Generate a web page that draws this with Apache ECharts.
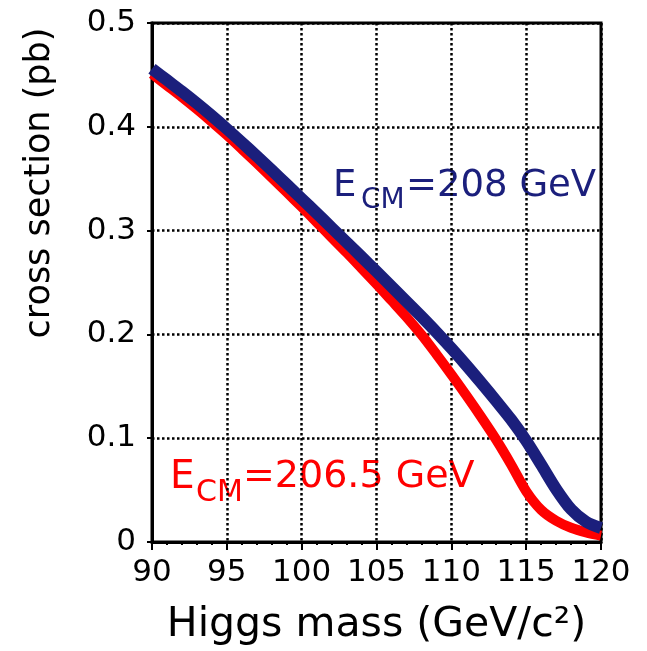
<!DOCTYPE html>
<html>
<head>
<meta charset="utf-8">
<script src="https://cdn.jsdelivr.net/npm/echarts@6/dist/echarts.min.js"></script>
<style>
html,body{margin:0;padding:0;background:#fff;}
#c{width:647px;height:651px;}
</style>
</head>
<body>
<div id="c"></div>
<script>
// Higgs mass (GeV/c^2)
var mass = [90,91,92,93,94,95,96,97,98,99,100,101,102,103,104,105,106,107,108,109,110,111,112,113,114,115,116,117,118,119,120];
// cross section (pb), E_CM = 208 GeV
var xsec208 = [0.456,0.445,0.434,0.4225,0.4105,0.398,0.385,0.3717,0.3582,0.3445,0.3307,0.3168,0.3028,0.2888,0.2747,0.2605,0.2462,0.2318,0.2172,0.2022,0.1866,0.1703,0.1533,0.1358,0.1178,0.0975,0.0745,0.051,0.0315,0.0195,0.0135];
// cross section (pb), E_CM = 206.5 GeV
var xsec2065 = [0.451,0.4398,0.4286,0.4169,0.4047,0.392,0.3786,0.3649,0.351,0.3369,0.3227,0.3081,0.2934,0.2788,0.2637,0.2485,0.2327,0.2168,0.1997,0.1809,0.1614,0.1412,0.1203,0.0985,0.0745,0.049,0.031,0.0205,0.0137,0.0093,0.0062];
var xTicks = {min: 90, max: 120, interval: 5};
var yTicks = {min: 0, max: 0.5, interval: 0.1};

function pairs(xs, ys){ return xs.map(function(x,i){ return [x, ys[i]]; }); }

var FONT = 'DejaVu Sans';
var chart = echarts.init(document.getElementById('c'), null, {renderer: 'canvas'});
chart.setOption({
  animation: false,
  backgroundColor: '#fff',
  textStyle: {fontFamily: FONT},
  grid: {left: 152, right: 46, top: 23, bottom: 107, show: true, borderColor: '#000', borderWidth: 3, containLabel: false},
  xAxis: {
    type: 'value', min: xTicks.min, max: xTicks.max, interval: xTicks.interval,
    name: 'Higgs mass (GeV/c²)', nameLocation: 'middle', nameGap: 63,
    nameTextStyle: {fontFamily: FONT, fontSize: 41, color: '#000'},
    axisLine: {show: true, lineStyle: {color: '#000', width: 3}},
    axisTick: {show: true, inside: false, length: 8, lineStyle: {color: '#000', width: 2}},
    minorTick: {show: true, splitNumber: 5, length: 3, lineStyle: {color: '#000', width: 2}},
    axisLabel: {fontFamily: FONT, fontSize: 31, color: '#000', margin: 15},
    splitLine: {show: true, lineStyle: {color: '#000', width: 2.5, type: [2.5, 2.5]}}
  },
  yAxis: {
    type: 'value', min: yTicks.min, max: yTicks.max, interval: yTicks.interval,
    axisLine: {show: true, lineStyle: {color: '#000', width: 3}},
    axisTick: {show: true, inside: false, length: 5, lineStyle: {color: '#000', width: 2}},
    axisLabel: {fontFamily: FONT, fontSize: 31, color: '#000', margin: 16},
    splitLine: {show: true, lineStyle: {color: '#000', width: 2.5, type: [2.5, 2.5]}}
  },
  series: [
    {type: 'line', data: pairs(mass, xsec2065), smooth: 0.3, showSymbol: false, z: 2,
     lineStyle: {color: '#ff0000', width: 10, cap: 'butt', join: 'round'}},
    {type: 'line', data: pairs(mass, xsec208), smooth: 0.3, showSymbol: false, z: 3,
     lineStyle: {color: '#1b1f7c', width: 12, cap: 'butt', join: 'round'}}
  ],
  graphic: [
    {type: 'text', x: 40, y: 183, rotation: Math.PI / 2,
     style: {text: 'cross section (pb)', fontFamily: FONT, fontSize: 35, fill: '#000', align: 'center', verticalAlign: 'middle'}},
    {type: 'text', left: 333, top: 168, style: {text: 'E', fontFamily: FONT, fontSize: 37, fill: '#1b1f7c'}},
    {type: 'text', left: 361, top: 187, style: {text: 'CM', fontFamily: FONT, fontSize: 28, fill: '#1b1f7c'}},
    {type: 'text', left: 406, top: 168, style: {text: '=208 GeV', fontFamily: FONT, fontSize: 37, fill: '#1b1f7c'}},
    {type: 'text', left: 170, top: 458, style: {text: 'E', fontFamily: FONT, fontSize: 39, fill: '#ff0000'}},
    {type: 'text', left: 196, top: 478, style: {text: 'CM', fontFamily: FONT, fontSize: 30, fill: '#ff0000'}},
    {type: 'text', left: 243, top: 458, style: {text: '=206.5 GeV', fontFamily: FONT, fontSize: 38, fill: '#ff0000'}}
  ]
});
</script>
</body>
</html>
